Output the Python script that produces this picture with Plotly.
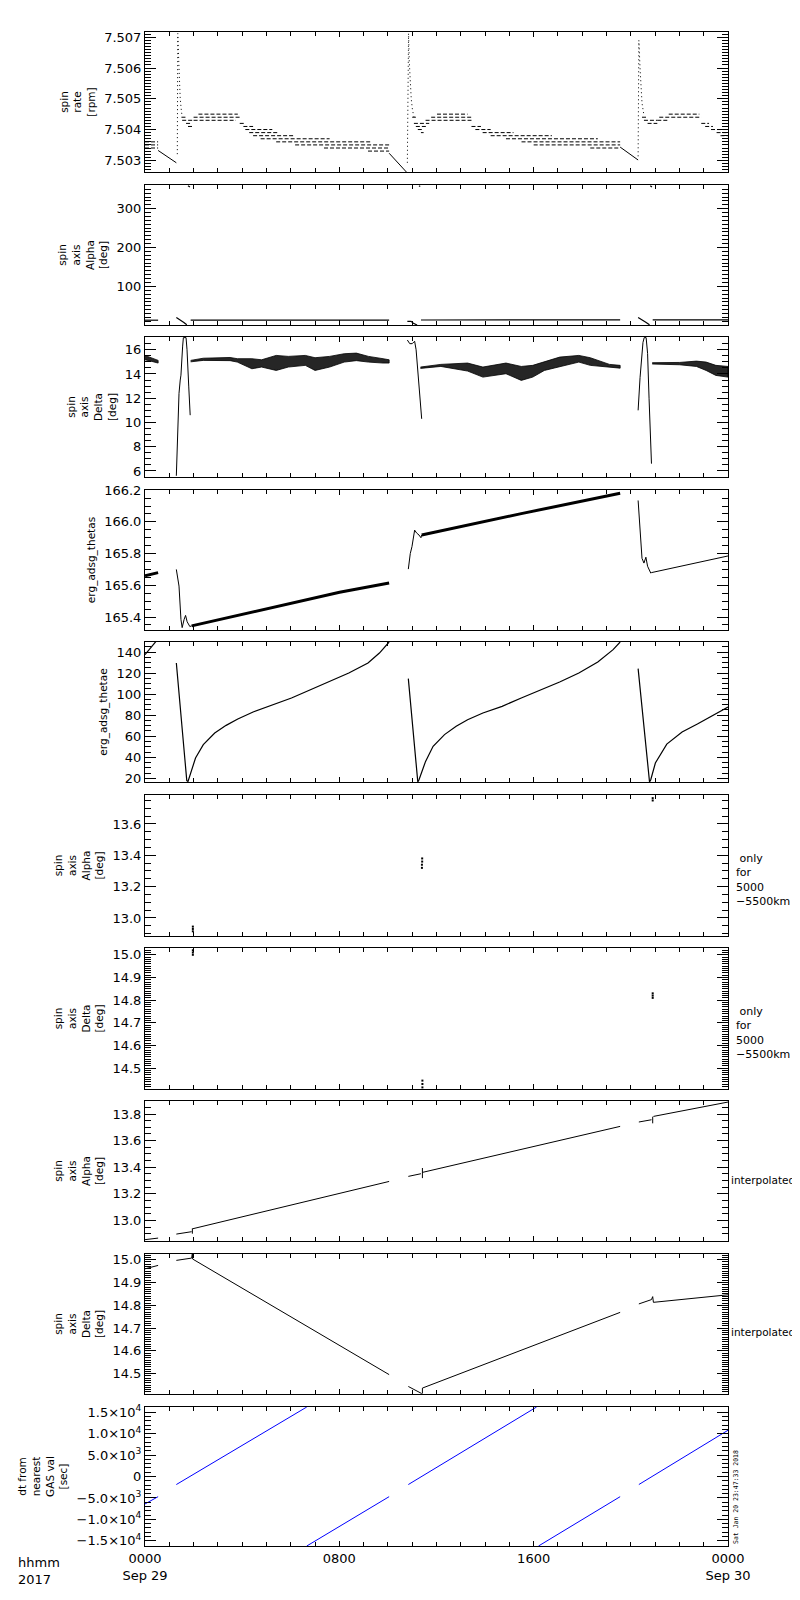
import plotly.graph_objects as go

# time axis is hours after 0000 Sep 29 2017

# ---- panel 1: spin rate [rpm] ----
rate_row_t0 = [0, 0, 0,
               1.50, 1.53, 1.69, 1.77, 2.00, 2.20, 2.00, 3.90, 4.05, 4.13, 4.29, 4.45, 4.76, 5.40, 6.18, 7.37, 9.18,
               11.00, 11.07, 11.15, 11.23, 11.36, 11.55, 11.78, 12.02, 13.44, 13.60, 13.90, 14.23, 14.86, 15.50, 16.00, 18.33,
               20.46, 20.54, 20.69, 21.09, 21.17, 21.56, 22.90, 23.06, 23.30, 23.53, 23.69]
rate_row_t1 = [0.54, 0.54, 0.54,
               1.69, 2.00, 1.92, 2.00, 3.90, 3.82, 3.74, 4.13, 4.45, 5.24, 5.47, 6.18, 7.60, 9.34, 10.05, 10.05, 10.05,
               11.15, 11.70, 11.62, 11.47, 11.47, 13.44, 13.44, 13.28, 13.83, 14.23, 15.17, 16.75, 18.64, 19.56, 19.56, 19.56,
               20.69, 21.09, 21.09, 21.56, 22.90, 22.82, 23.22, 23.38, 24.00, 24.00, 24.00]
rate_row_v = [7.5036, 7.5035, 7.5034,
              7.5044, 7.5043, 7.5042, 7.5041, 7.5044, 7.5045, 7.5043, 7.5042, 7.5041, 7.5040, 7.5039, 7.5038, 7.5037, 7.5036, 7.5035, 7.5034, 7.5033,
              7.5044, 7.5042, 7.5041, 7.5040, 7.5039, 7.5043, 7.5044, 7.5045, 7.5041, 7.5040, 7.5039, 7.5038, 7.5037, 7.5036, 7.5035, 7.5034,
              7.5044, 7.5043, 7.5042, 7.5043, 7.5044, 7.5045, 7.5042, 7.5041, 7.5040, 7.5039, 7.5038]
rate_slope_t = [0.54, 1.29, None, 10.05, 10.76, None, 19.56, 20.30]
rate_slope_v = [7.50332, 7.50292, None, 7.50323, 7.50262, None, 7.50343, 7.50301]
rate_spike_t = [1.33, 1.35, 1.39, 1.42, 1.45, 1.50, 1.53, None,
                10.80, 10.85, 10.88, 10.92, 10.96, 11.01, 11.07, None,
                20.30, 20.33, 20.38, 20.41, 20.46, 20.54]
rate_spike_v = [7.50320, 7.50712, 7.50620, 7.50545, 7.50500, 7.50459, 7.50442, None,
                7.50292, 7.50712, 7.50620, 7.50545, 7.50500, 7.50464, 7.50442, None,
                7.50313, 7.50690, 7.50599, 7.50534, 7.50486, 7.50446]

# ---- panel 2: spin axis alpha [deg] ----
alpha_t = [0, 0.54, None, 1.29, 1.40, 1.50, 1.60, 1.72, None, 1.77, 1.85, None, 1.88, 10.05, None,
           10.80, 10.95, 11.05, 11.20, None, 11.28, 11.33, None, 11.36, 19.56, None,
           20.30, 20.45, 20.60, 20.77, None, 20.80, 20.87, None, 20.90, 24.0]
alpha_v = [12.86, 12.87, None, 20, 16, 12, 7, 1, None, 359, 356, None, 12.94, 13.29, None,
           10, 10, 5, 0.5, None, 359, 357, None, 13.36, 13.71, None,
           20, 15, 8, 1, None, 359, 356, None, 13.78, 13.89]

# ---- panel 3: spin axis delta [deg] (noisy bands as envelopes) ----
delta_a_t = [0, 0.2, 0.4, 0.54]
delta_a_hi = [15.53, 15.40, 15.25, 15.12]
delta_a_lo = [15.17, 15.08, 15.00, 14.90]
delta_b_t = [1.88, 2.4, 3.5, 3.8, 4.4, 4.8, 5.4, 5.9, 6.6, 7.0, 7.6, 8.2, 8.7, 9.2, 9.8, 10.05]
delta_b_hi = [15.12, 15.30, 15.36, 15.26, 15.26, 15.17, 15.53, 15.45, 15.53, 15.34, 15.45, 15.67, 15.72, 15.45, 15.26, 15.17]
delta_b_lo = [15.00, 15.12, 15.10, 14.98, 14.43, 14.57, 14.29, 14.57, 14.71, 14.29, 14.57, 14.98, 15.10, 14.98, 14.90, 14.90]
delta_c_t = [11.34, 12.18, 13.28, 13.91, 14.86, 15.49, 15.96, 16.44, 17.07, 17.86, 18.33, 19.12, 19.56]
delta_c_hi = [14.57, 14.79, 14.90, 14.57, 14.90, 14.62, 14.71, 14.98, 15.39, 15.53, 15.34, 14.79, 14.71]
delta_c_lo = [14.46, 14.62, 14.24, 13.74, 14.02, 13.47, 13.74, 14.29, 14.57, 14.98, 14.71, 14.57, 14.48]
delta_d_t = [20.88, 22.0, 22.7, 23.1, 23.5, 24.0]
delta_d_hi = [14.93, 14.95, 15.06, 14.98, 14.71, 14.62]
delta_d_lo = [14.82, 14.76, 14.62, 14.29, 13.88, 13.74]
delta_jump_t = [1.29, 1.40, 1.45, 1.48, 1.55, 1.58, 1.69, 1.73, 1.80, 1.86, None,
                10.80, 10.90, 11.00, 11.10, 11.16, 11.25, 11.39, None,
                20.30, 20.38, 20.50, 20.55, 20.63, 20.69, 20.75, 20.85]
delta_jump_v = [5.6, 12.4, 13.5, 13.9, 16.3, 17.0, 17.0, 16.0, 13.0, 10.6, None,
                16.8, 16.5, 16.5, 16.7, 16.0, 13.5, 10.3, None,
                11.0, 13.7, 16.6, 17.0, 17.0, 15.7, 12.0, 6.6]

# ---- panel 4: erg_adsg_thetas ----
thetas_band_t = [0, 0.54, None, 1.92, 4.45, 8.01, 10.05, None, 11.39, 15.49, 19.56]
thetas_band_v = [165.660, 165.680, None, 165.344, 165.431, 165.556, 165.615, None, 165.917, 166.052, 166.180]
thetas_t = [1.29, 1.40, 1.48, 1.53, 1.61, 1.67, 1.735, 1.845, 1.92, None,
            10.84, 10.92, 10.99, 11.10, 11.18, 11.28, 11.36, 11.39, None,
            20.30, 20.38, 20.46, 20.54, 20.62, 20.69, 20.82, 20.85, 24.0]
thetas_v = [165.700, 165.595, 165.385, 165.333, 165.385, 165.410, 165.370, 165.340, 165.344, None,
            165.702, 165.800, 165.844, 165.948, 165.930, 165.917, 165.900, 165.917, None,
            166.135, 165.948, 165.770, 165.740, 165.777, 165.720, 165.677, 165.680, 165.785]

# ---- panel 5: erg_adsg_thetae ----
thetae_t = [0, 0.43, 0.54, None,
            1.29, 1.72, 1.77, 1.92, 2.08, 2.40, 2.87, 3.34, 3.82, 4.45, 5.24, 6.03, 6.81, 7.60, 8.39, 9.18, 9.65, 10.05, None,
            10.84, 11.23, 11.28, 11.55, 11.86, 12.33, 12.81, 13.28, 13.91, 14.70, 15.49, 16.28, 17.07, 17.86, 18.64, 19.27, 19.56, None,
            20.30, 20.77, 20.82, 21.01, 21.48, 22.11, 22.74, 23.38, 24.0]
thetae_v = [137.5, 149.5, 152.5, None,
            129.5, 17.8, 17.0, 28.2, 39.3, 52.0, 63.0, 70.3, 76.3, 83.0, 89.9, 96.3, 104.2, 112.1, 120.0, 129.5, 139.0, 149.5, None,
            114.7, 16.5, 18.7, 36.1, 50.4, 61.5, 69.4, 75.7, 82.0, 88.4, 96.3, 103.6, 111.5, 120.0, 130.5, 142.2, 149.5, None,
            124.2, 16.5, 18.7, 34.5, 52.5, 64.0, 71.6, 79.8, 87.7]

# ---- panels 6, 7: alpha / delta only for 5000-5500 km ----
alpha_r_t = [1.97, 1.97, 1.97, 11.40, 11.40, 11.41, 11.41, 20.90, 20.90]
alpha_r_v = [12.915, 12.930, 12.945, 13.320, 13.340, 13.360, 13.380, 13.750, 13.765]
delta_r_t = [1.97, 1.97, 1.97, 11.42, 11.42, 11.42, 20.90, 20.90, 20.90]
delta_r_v = [15.000, 15.010, 15.020, 14.415, 14.430, 14.445, 14.810, 14.820, 14.830]

# ---- panels 8, 9: interpolated alpha / delta ----
alpha_i_t = [0, 0.2, 0.54, None, 1.29, 1.92, None, 1.95, 1.95, None, 1.96, 10.05, None,
             10.84, 11.36, None, 11.42, 11.42, None, 11.42, 19.56, None,
             20.33, 20.85, None, 20.90, 20.90, None, 20.93, 24.0]
alpha_i_v = [12.855, 12.860, 12.867, None, 12.897, 12.915, None, 12.900, 12.940, None, 12.937, 13.293, None,
             13.331, 13.351, None, 13.318, 13.394, None, 13.361, 13.707, None,
             13.740, 13.757, None, 13.730, 13.780, None, 13.782, 13.890]
delta_i_t = [0, 0.2, 0.54, None, 1.29, 1.92, 1.95, 1.96, 10.05, None,
             10.84, 11.30, 11.39, None, 11.42, 11.42, 19.56, None,
             20.33, 20.85, 20.90, 20.93, 24.0]
delta_i_v = [14.960, 14.965, 14.975, None, 14.997, 15.007, 15.028, 15.003, 14.496, None,
             14.444, 14.420, 14.413, None, 14.413, 14.437, 14.769, None,
             14.806, 14.825, 14.838, 14.813, 14.846]

# ---- panel 10: dt from nearest GAS val [sec] ----
dt_t = [0, 0.54, None, 1.29, 6.66, None, 6.66, 10.05, None, 10.84, 16.12, None, 16.20, 19.56, None, 20.33, 24.0]
dt_v = [-6400, -4700, None, -1875, 16200, None, -16200, -4700, None, -1875, 16200, None, -16200, -4700, None, -1875, 10780]
dt_tickvals = [-15000, -10000, -5000, 0, 5000, 10000, 15000]
dt_ticktext = ["\u22121.5\u00d710<sup>4</sup>", "\u22121.0\u00d710<sup>4</sup>", "\u22125.0\u00d710<sup>3</sup>", "0",
               "5.0\u00d710<sup>3</sup>", "1.0\u00d710<sup>4</sup>", "1.5\u00d710<sup>4</sup>"]

x_tickvals = [0, 8, 16, 24]
x_ticktext = ["0000<br>Sep 29", "0800", "1600", "0000<br>Sep 30"]

titles = ["spin<br>rate<br>[rpm]", "spin<br>axis<br>Alpha<br>[deg]", "spin<br>axis<br>Delta<br>[deg]",
          "erg_adsg_thetas", "erg_adsg_thetae", "spin<br>axis<br>Alpha<br>[deg]", "spin<br>axis<br>Delta<br>[deg]",
          "spin<br>axis<br>Alpha<br>[deg]", "spin<br>axis<br>Delta<br>[deg]", "dt from<br>nearest<br>GAS val<br>[sec]"]

# y axis setup per panel: range, tick0, dtick, minor dtick, format
yranges = [[7.50262, 7.50717], [0.5, 361], [5.5, 17.05], [165.318, 166.201], [16.5, 149.5],
           [12.885, 13.785], [14.408, 15.03], [12.845, 13.898], [14.411, 15.025], [-16200, 16200]]
ytick0 = [7.503, 0, 0, 165.4, 0, 13.0, 14.5, 13.0, 14.5, 0]
ydtick = [0.001, 100, 2, 0.2, 20, 0.2, 0.1, 0.2, 0.1, 5000]
yminor = [0.0001, 10, 0.5, 0.05, 5, 0.05, 0.01, 0.05, 0.01, 1000]
yfmt = [".3f", "d", "d", ".1f", "d", ".1f", ".1f", ".1f", ".1f", ""]

# pixel layout
W, H = 800, 1600
L, R, T, B = 137, 720, 24, 1538
tops = [24, 177, 329, 482, 634, 787, 940, 1093, 1246, 1399]
bots = [164, 317, 469, 622, 774, 928, 1081, 1233, 1386, 1538]


def px(xp):
    return (xp - L) / (R - L)


def py(yp):
    return (B - yp) / (B - T)


FONT = "DejaVu Sans"
fig = go.Figure()


def line(n, x, y, width=1, dash=None, color="black"):
    fig.add_trace(go.Scatter(x=x, y=y, mode="lines", xaxis="x%d" % n if n > 1 else "x",
                             yaxis="y%d" % n if n > 1 else "y",
                             line=dict(color=color, width=width, dash=dash), hoverinfo="skip"))


def band(n, t, hi, lo):
    fig.add_trace(go.Scatter(x=t + t[::-1], y=hi + lo[::-1], mode="lines", fill="toself",
                             fillcolor="rgba(0,0,0,0.85)", line=dict(color="black", width=0.8),
                             xaxis="x%d" % n if n > 1 else "x", yaxis="y%d" % n if n > 1 else "y",
                             hoverinfo="skip"))


def dots(n, x, y):
    fig.add_trace(go.Scatter(x=x, y=y, mode="markers", marker=dict(color="black", size=2, symbol="square"),
                             xaxis="x%d" % n if n > 1 else "x", yaxis="y%d" % n if n > 1 else "y",
                             hoverinfo="skip"))


# panel 1
row_x, row_y = [], []
for a, b, v in zip(rate_row_t0, rate_row_t1, rate_row_v):
    row_x += [a, b, None]
    row_y += [v, v, None]
line(1, row_x, row_y, 1, "4px,2px")
line(1, rate_slope_t, rate_slope_v, 1)
line(1, rate_spike_t, rate_spike_v, 1, "1px,3px")
# panel 2
line(2, alpha_t, alpha_v, 1.2)
# panel 3
band(3, delta_a_t, delta_a_hi, delta_a_lo)
band(3, delta_b_t, delta_b_hi, delta_b_lo)
band(3, delta_c_t, delta_c_hi, delta_c_lo)
band(3, delta_d_t, delta_d_hi, delta_d_lo)
line(3, delta_jump_t, delta_jump_v, 1)
# panel 4
line(4, thetas_band_t, thetas_band_v, 3)
line(4, thetas_t, thetas_v, 1)
# panel 5
line(5, thetae_t, thetae_v, 1.2)
# panels 6 - 9
dots(6, alpha_r_t, alpha_r_v)
dots(7, delta_r_t, delta_r_v)
line(8, alpha_i_t, alpha_i_v, 1)
line(9, delta_i_t, delta_i_v, 1)
# panel 10
line(10, dt_t, dt_v, 1, None, "#0000ff")

layout = dict(width=W, height=H, plot_bgcolor="white", paper_bgcolor="white", showlegend=False,
              margin=dict(l=L, r=W - R, t=T, b=H - B), font=dict(family=FONT, size=13, color="black"))

for i in range(10):
    n = i + 1
    xs = "xaxis" if n == 1 else "xaxis%d" % n
    ys = "yaxis" if n == 1 else "yaxis%d" % n
    xa = dict(domain=[0, 1], anchor="y" if n == 1 else "y%d" % n, range=[0, 24],
              tickmode="array", tickvals=x_tickvals, ticktext=x_ticktext,
              showticklabels=(n == 10), ticks="inside", ticklen=5, tickcolor="black",
              minor=dict(tickmode="linear", tick0=0, dtick=1, ticks="inside", ticklen=4, tickcolor="black"),
              showline=True, linecolor="black", linewidth=1, mirror="ticks",
              showgrid=False, zeroline=False, automargin=False,
              tickfont=dict(size=13), fixedrange=True)
    ya = dict(domain=[py(bots[i]), py(tops[i])], anchor="x" if n == 1 else "x%d" % n,
              range=yranges[i], ticks="inside", ticklen=11, tickcolor="black",
              minor=dict(tickmode="linear", tick0=ytick0[i], dtick=yminor[i], ticks="inside", ticklen=6,
                         tickcolor="black"),
              showline=True, linecolor="black", linewidth=1, mirror="ticks",
              showgrid=False, zeroline=False, automargin=False, tickfont=dict(size=13),
              title=dict(text=titles[i], font=dict(size=10.5), standoff=6))
    if n == 10:
        ya.update(tickmode="array", tickvals=dt_tickvals, ticktext=dt_ticktext)
    else:
        ya.update(tickmode="linear", tick0=ytick0[i], dtick=ydtick[i], tickformat=yfmt[i])
    layout[xs] = xa
    layout[ys] = ya

ann = []
only_txt = "\u00a0only<br>for<br>5000<br>\u22125500km"
ann.append(dict(text=only_txt, x=px(726), y=py(872), xanchor="left", yanchor="middle", align="left",
                font=dict(size=11)))
ann.append(dict(text=only_txt, x=px(726), y=py(1025), xanchor="left", yanchor="middle", align="left",
                font=dict(size=11)))
ann.append(dict(text="interpolated", x=px(721), y=py(1172), xanchor="left", yanchor="middle",
                font=dict(size=10.5)))
ann.append(dict(text="interpolated", x=px(721), y=py(1324), xanchor="left", yanchor="middle",
                font=dict(size=10.5)))
ann.append(dict(text="hhmm<br>2017", x=px(8), y=py(1545), xanchor="left", yanchor="top", align="left",
                font=dict(size=13)))
ann.append(dict(text="Sat Jan 20 23:47:33 2018", x=px(722), y=py(1538), xanchor="left", yanchor="bottom",
                textangle=-90, font=dict(size=6.5, family="DejaVu Sans Mono")))
for a in ann:
    a.update(xref="paper", yref="paper", showarrow=False)
layout["annotations"] = ann

fig.update_layout(**layout)
fig.write_html("out.html")
